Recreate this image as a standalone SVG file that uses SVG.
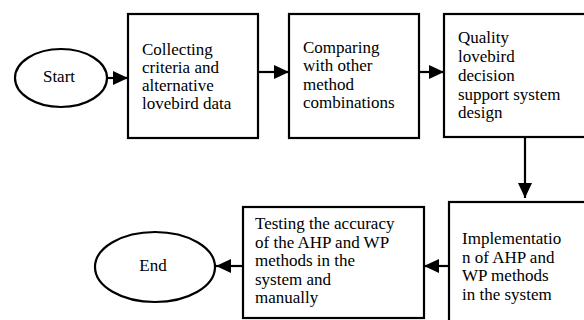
<svg xmlns="http://www.w3.org/2000/svg" width="584" height="320" viewBox="0 0 584 320" font-family="'Liberation Serif', 'Times New Roman', 'DejaVu Serif', serif" font-size="17">
<style>
.shape{fill:#fff;stroke:#000;stroke-width:2.2}
.edge{fill:none;stroke:#000;stroke-width:2.2}
.c{text-anchor:middle}
</style>
<defs>
<marker id="ah" markerUnits="userSpaceOnUse" markerWidth="15" markerHeight="14" refX="15" refY="7" orient="auto">
<path d="M0,0 L15,7 L0,14 z" fill="#000"/>
</marker>
</defs>
<rect width="584" height="320" fill="#fff"/>
<g id="connectors">
<line class="edge" x1="107" y1="78" x2="128" y2="78" marker-end="url(#ah)"/>
<line class="edge" x1="258" y1="72" x2="289" y2="72" marker-end="url(#ah)"/>
<line class="edge" x1="419" y1="72" x2="444" y2="72" marker-end="url(#ah)"/>
<line class="edge" x1="525" y1="137" x2="525" y2="198" marker-end="url(#ah)"/>
<line class="edge" x1="449" y1="266" x2="424" y2="266" marker-end="url(#ah)"/>
<line class="edge" x1="243" y1="266" x2="216" y2="266" marker-end="url(#ah)"/>
</g>
<g id="start">
<ellipse class="shape" cx="61" cy="78" rx="46" ry="29"/>
<text class="c" x="59" y="82">Start</text>
</g>
<g id="collect">
<rect class="shape" x="128" y="14" width="130" height="124"/>
<text x="142" y="55">Collecting</text>
<text x="142" y="73">criteria and</text>
<text x="142" y="91">alternative</text>
<text x="142" y="108.5">lovebird data</text>
</g>
<g id="compare">
<rect class="shape" x="289" y="14" width="130" height="124"/>
<text x="303" y="53">Comparing</text>
<text x="303" y="71">with other</text>
<text x="303" y="89.5">method</text>
<text x="303" y="107.5">combinations</text>
</g>
<g id="design">
<rect class="shape" x="444" y="14" width="200" height="123"/>
<text x="458" y="43">Quality</text>
<text x="458" y="62">lovebird</text>
<text x="458" y="81">decision</text>
<text x="458" y="100">support system</text>
<text x="458" y="118">design</text>
</g>
<g id="implement">
<rect class="shape" x="449" y="202" width="200" height="200"/>
<text x="462" y="244">Implementatio</text>
<text x="462" y="262.5">n of AHP and</text>
<text x="462" y="281">WP methods</text>
<text x="462" y="299.5">in the system</text>
</g>
<g id="testing">
<rect class="shape" x="243" y="207" width="181" height="111"/>
<text x="255" y="229">Testing the accuracy</text>
<text x="255" y="247.5">of the AHP and WP</text>
<text x="255" y="266">methods in the</text>
<text x="255" y="284.5">system and</text>
<text x="255" y="303">manually</text>
</g>
<g id="end">
<ellipse class="shape" cx="155" cy="267" rx="60" ry="35"/>
<text class="c" x="153" y="271">End</text>
</g>
</svg>
